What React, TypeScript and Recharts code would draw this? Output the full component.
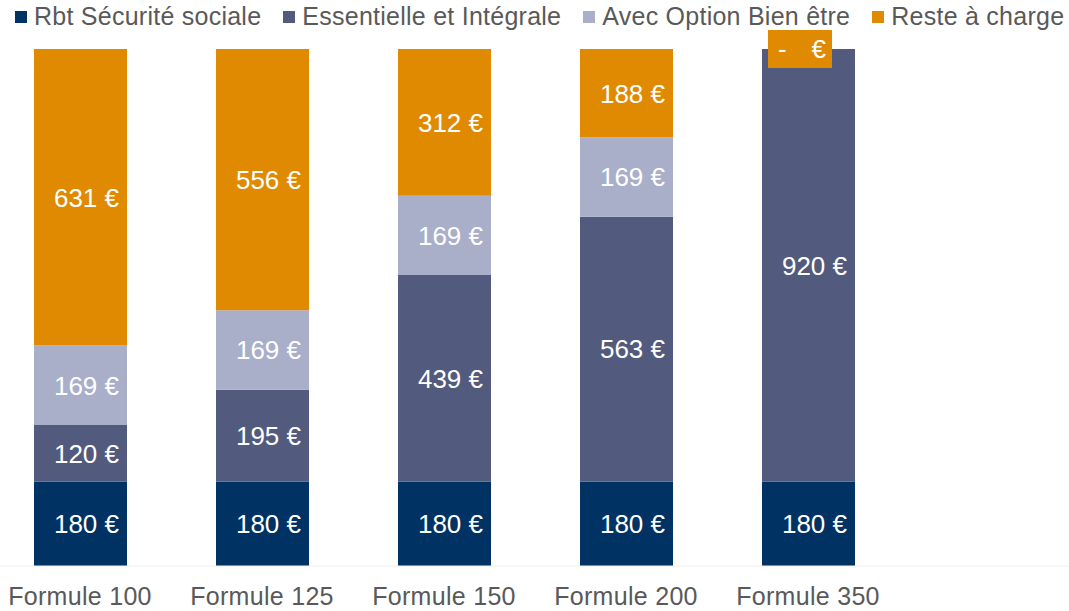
import React from 'react';
import { BarChart, Bar, XAxis, YAxis, LabelList, ReferenceDot } from 'recharts';

const categories = ['Formule 100', 'Formule 125', 'Formule 150', 'Formule 200', 'Formule 350'];
const secu = [180, 180, 180, 180, 180];
const essentielle = [120, 195, 439, 563, 920];
const option = [169, 169, 169, 169, 0];
const reste = [631, 556, 312, 188, 0];

const seriesNames = ['Rbt Sécurité sociale', 'Essentielle et Intégrale', 'Avec Option Bien être', 'Reste à charge'];
const seriesKeys = ['secu', 'essentielle', 'option', 'reste'];
const colors = ['#003263', '#525A7D', '#A9AEC9', '#DF8A00'];

const data = categories.map((c, i) => ({
  name: c,
  secu: secu[i],
  essentielle: essentielle[i],
  option: option[i],
  reste: reste[i],
}));

const zeroReste = categories
  .map((c, i) => ({ name: c, top: secu[i] + essentielle[i] + option[i] + reste[i], v: reste[i] }))
  .filter((d) => d.v === 0);

const FONT = '"Liberation Sans", Arial, sans-serif';
const TEXT = '#595959';

const makeLabel = () => (props: any) => {
  const { x, y, width, height, value } = props;
  if (!value) return null;
  const cx = Number(x) + Number(width) / 2;
  const cy = Number(y) + Number(height) / 2;
  return (
    <text x={cx + 6} y={cy} dy="0.36em" fill="#fff" fontSize={26} fontFamily={FONT} textAnchor="middle">
      {`${value} €`}
    </text>
  );
};

const ZeroBox = (props: any) => {
  const { cx, cy } = props;
  return (
    <g>
      <rect x={cx - 40} y={cy - 19} width={64} height={38} fill={colors[3]} />
      <text x={cx - 30} y={cy} dy="0.36em" fill="#fff" fontSize={26} fontFamily={FONT}>-</text>
      <text x={cx + 18} y={cy} dy="0.36em" fill="#fff" fontSize={26} fontFamily={FONT} textAnchor="end">€</text>
    </g>
  );
};

export default function App() {
  return (
    <div style={{ position: 'absolute', left: 0, top: 0, width: 1069, height: 611, overflow: 'hidden', background: '#fff' }}>
      <div style={{ position: 'absolute', left: -11, top: 0 }}>
        <BarChart width={1092} height={611} data={data} margin={{ top: 49, right: 0, bottom: 0, left: 0 }} barSize={93}>
          <XAxis
            dataKey="name"
            padding={{ left: 0, right: 182 }}
            height={45}
            tickSize={0}
            tickMargin={21}
            axisLine={{ stroke: '#EEEEEE' }}
            tickLine={false}
            tick={{ fill: TEXT, fontSize: 25, fontFamily: FONT, letterSpacing: 0.3 }}
            interval={0}
          />
          <YAxis hide domain={[0, 1100]} />
          {seriesKeys.map((k, i) => (
            <Bar key={k} dataKey={k} stackId="a" fill={colors[i]} isAnimationActive={false}>
              <LabelList dataKey={k} content={makeLabel()} />
            </Bar>
          ))}
          {zeroReste.map((d) => (
            <ReferenceDot key={d.name} x={d.name} y={d.top} r={1} shape={ZeroBox} ifOverflow="visible" />
          ))}
        </BarChart>
      </div>
      <div
        style={{
          position: 'absolute',
          top: 2,
          left: 15,
          display: 'flex',
          alignItems: 'center',
          fontFamily: FONT,
          fontSize: 25,
          color: TEXT,
          whiteSpace: 'nowrap',
        }}
      >
        {seriesNames.map((n, i) => (
          <div key={n} style={{ display: 'flex', alignItems: 'center', marginRight: 22 }}>
            <span style={{ display: 'inline-block', width: 12, height: 12, background: colors[i], marginRight: 7 }} />
            <span style={{ letterSpacing: 0.25 }}>{n}</span>
          </div>
        ))}
      </div>
    </div>
  );
}
